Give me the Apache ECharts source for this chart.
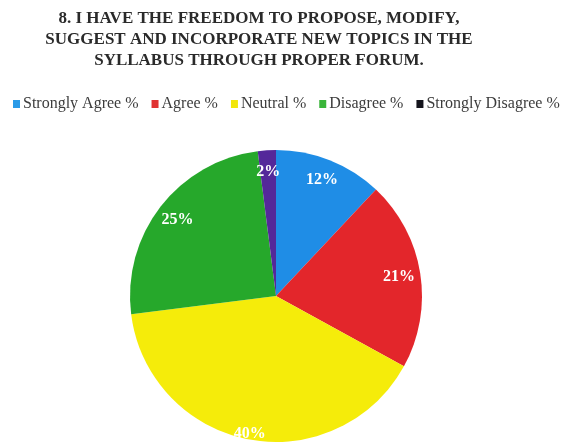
<!DOCTYPE html>
<html>
<head>
<meta charset="utf-8">
<script src="https://cdn.jsdelivr.net/npm/echarts@6/dist/echarts.min.js"></script>
<style>
  html, body { margin: 0; padding: 0; background: #ffffff; }
  #chart { width: 566px; height: 446px; }
</style>
</head>
<body>
<div id="chart"></div>
<script>
// Survey responses for question 8 (percent of respondents)
const categories = ['Strongly Agree %', 'Agree %', 'Neutral %', 'Disagree %', 'Strongly Disagree %'];
const percentages = [12, 21, 40, 25, 2];
const sliceColors = ['#1f8de6', '#e3262b', '#f5ec0a', '#26a82b', '#54289a'];
const legendColors = ['#2b9be8', '#e03232', '#f2e60a', '#3ab53a', '#14141c'];
const titleText = '8. I HAVE THE FREEDOM TO PROPOSE, MODIFY,\nSUGGEST AND INCORPORATE NEW TOPICS IN THE\nSYLLABUS THROUGH PROPER FORUM.';

const chart = echarts.init(document.getElementById('chart'), null, { renderer: 'canvas' });

const cx = 276, cy = 296, radius = 146;
// labels sit on a ring inside the pie; the large bottom slice puts its label nearer the rim
const labelRing = 0.82;
const outerLabelRing = 0.92;

chart.setOption({
  backgroundColor: '#ffffff',
  animation: false,
  title: {
    text: titleText,
    left: 254,
    top: 3,
    textAlign: 'center',
    textStyle: {
      fontFamily: '"Liberation Serif", "DejaVu Serif", serif',
      fontWeight: 'bold',
      fontSize: 17,
      lineHeight: 21,
      color: '#2a2a2a'
    }
  },
  legend: {
    top: 91,
    left: 8,
    icon: 'rect',
    itemWidth: 7,
    itemHeight: 8,
    itemGap: 13,
    selectedMode: false,
    data: categories.map((name, i) => ({ name, itemStyle: { color: legendColors[i] } })),
    textStyle: {
      fontFamily: '"Liberation Serif", serif',
      fontSize: 16,
      color: '#3c3c3c',
      padding: [0, 0, 0, -2]
    }
  },
  series: [{
    type: 'pie',
    center: [cx, cy],
    radius: [0, radius],
    startAngle: 90,
    clockwise: true,
    silent: true,
    data: categories.map((name, i) => ({ name, value: percentages[i], itemStyle: { color: sliceColors[i] } })),
    label: {
      show: true,
      position: 'inside',
      formatter: p => p.value + '%',
      fontFamily: '"Liberation Serif", serif',
      fontWeight: 'bold',
      fontSize: 16,
      color: '#ffffff'
    },
    labelLine: { show: false },
    labelLayout: function (p) {
      // move each label outward from the default half-radius position along its slice's mid-angle
      const lx = p.labelRect.x + p.labelRect.width / 2;
      const ly = p.labelRect.y + p.labelRect.height / 2;
      const ring = percentages[p.dataIndex] === Math.max(...percentages) ? outerLabelRing : labelRing;
      const k = ring / 0.5;
      return {
        x: cx + (lx - cx) * k,
        y: cy + (ly - cy) * k,
        align: 'center',
        verticalAlign: 'middle'
      };
    }
  }]
});
</script>
</body>
</html>
